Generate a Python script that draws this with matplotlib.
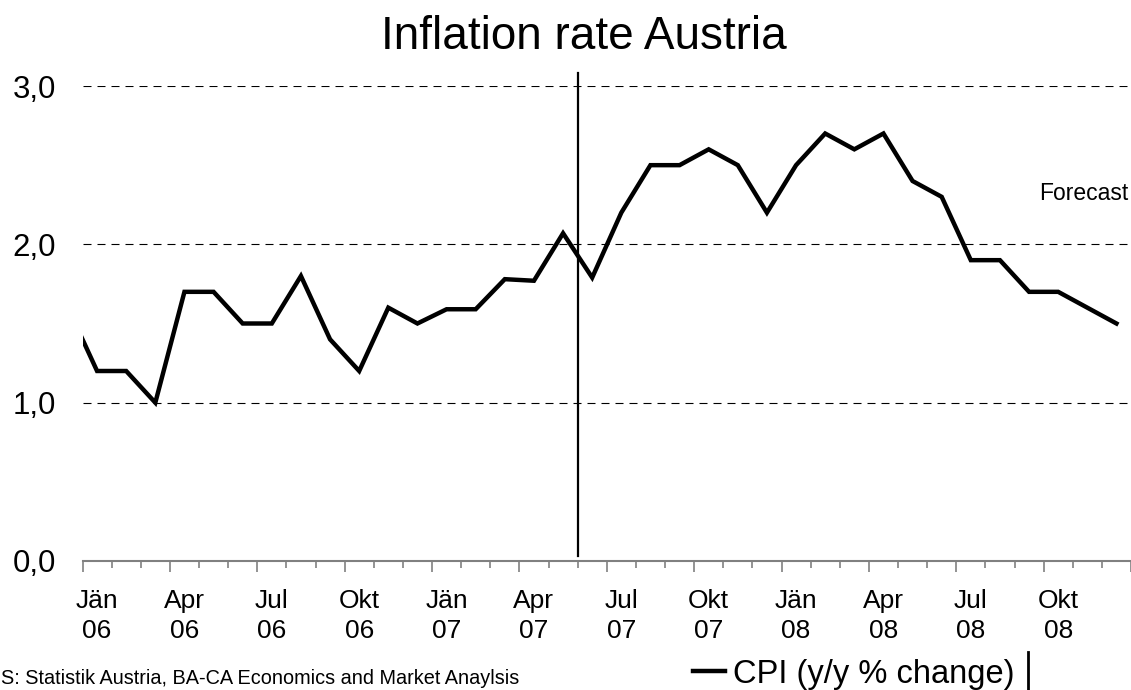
import numpy as np
import matplotlib
matplotlib.use("Agg")
import matplotlib.pyplot as plt
import matplotlib.transforms as mtrans
from matplotlib.lines import Line2D

plt.rcParams['font.family'] = ['Liberation Sans', 'DejaVu Sans']

# monthly CPI, Dez 05 .. Dez 08 (index -1 .. 35)
months = np.arange(-1, 36)
cpi = [1.6,
       1.2, 1.2, 1.0, 1.7, 1.7, 1.5, 1.5, 1.8, 1.4, 1.2, 1.6, 1.5,
       1.59, 1.59, 1.78, 1.77, 2.07, 1.79, 2.2, 2.5, 2.5, 2.6, 2.5, 2.2,
       2.5, 2.7, 2.6, 2.7, 2.4, 2.3, 1.9, 1.9, 1.7, 1.7, 1.6, 1.5]

label_pos = np.arange(0, 36, 3)
label_text = ["Jän\n06", "Apr\n06", "Jul\n06", "Okt\n06",
              "Jän\n07", "Apr\n07", "Jul\n07", "Okt\n07",
              "Jän\n08", "Apr\n08", "Jul\n08", "Okt\n08"]
yticks = [0, 1, 2, 3]
ytick_labels = ["0,0", "1,0", "2,0", "3,0"]
forecast_split = 16.5

fig = plt.figure(figsize=(11.31, 6.9), dpi=100)
ax = fig.add_axes([82.5 / 1131, 129 / 690, 1 - 82.5 / 1131, 475 / 690])

line, = ax.plot(months, cpi, color="black", lw=3.2, solid_joinstyle="miter")
ax.set_xlim(-0.5, 35.5)
ax.set_ylim(0, 3)

for s in ["left", "top", "right"]:
    ax.spines[s].set_visible(False)
ax.spines["bottom"].set_color("#808080")
ax.spines["bottom"].set_linewidth(1.5)

ax.set_yticks(yticks)
ax.set_yticklabels(ytick_labels)
ax.tick_params(axis="y", length=0, pad=19, labelsize=22.5)
ax.grid(axis="y", color="black", lw=0.8, linestyle=(0, (7.2, 5.4)))
ax.set_axisbelow(True)

ax.set_xticks(np.arange(-0.5, 36, 3))
ax.set_xticks(np.arange(-0.5, 36, 1), minor=True)
ax.tick_params(axis="x", which="major", length=8, width=1.2, color="#808080",
               labelbottom=False)
ax.tick_params(axis="x", which="minor", length=5, width=1.2, color="#808080")

trans = mtrans.blended_transform_factory(ax.transData, fig.transFigure)
for p, t in zip(label_pos, label_text):
    ax.text(p, (690 - 616) / 690, t, transform=trans, ha="center", va="center",
            fontsize=19, linespacing=1.27)

ax.axvline(forecast_split, ymin=0.01, ymax=1.027, color="black", lw=1.6, clip_on=False)

fig.text(583.5 / 1131, (690 - 49) / 690, "Inflation rate Austria",
         ha="center", va="baseline", fontsize=33)
fig.text(1128 / 1131, (690 - 200.5) / 690, "Forecast",
         ha="right", va="baseline", fontsize=16.5)
fig.text(1 / 1131, (690 - 684.3) / 690,
         "S: Statistik Austria, BA-CA Economics and Market Anaylsis",
         ha="left", va="baseline", fontsize=14.3)

fig.legend(handles=[line], labels=["CPI (y/y % change)"], loc="center left",
           bbox_to_anchor=(692.7 / 1131, (690 - 674) / 690), frameon=False,
           fontsize=23.5, handlelength=1.0, handletextpad=0.22,
           borderpad=0, borderaxespad=0)
fig.add_artist(Line2D([1028 / 1131] * 2, [0, (690 - 652) / 690], color="black",
                      lw=2, transform=fig.transFigure))

fig.savefig("out.png", dpi=100)
